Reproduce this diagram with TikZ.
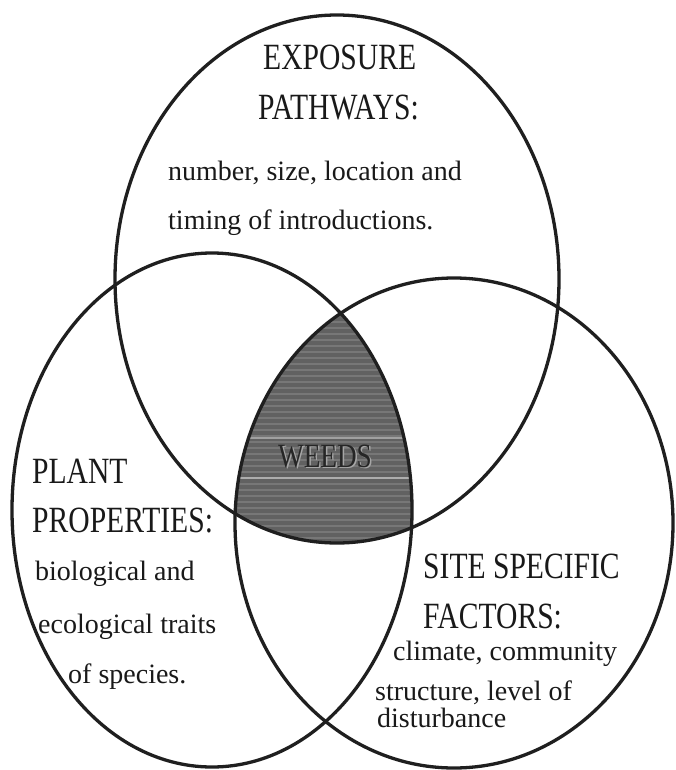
\documentclass[tikz,border=0pt]{standalone}
\usepackage{fontspec}
\setmainfont{Liberation Serif}
\newfontfamily\headfont[FakeStretch=0.8]{Liberation Serif}
\begin{document}
\begin{tikzpicture}[x=1pt,y=-1pt,
  ring/.style={draw=black!88, line width=3.3pt},
  head/.style={inner sep=0pt, anchor=base west, font=\headfont\fontsize{37}{37}\selectfont, text=black!90},
  body/.style={inner sep=0pt, anchor=base west, font=\fontsize{28}{28}\selectfont, text=black!90}]
\useasboundingbox[fill=white] (0,0) rectangle (676,770);
% shaded common region
\begin{scope}
  \clip (337,279) ellipse [x radius=222pt, y radius=264pt];
  \clip (212,510) ellipse [x radius=200pt, y radius=257pt];
  \fill[black!62] (454,523) ellipse [x radius=219pt, y radius=245pt];
  \foreach \yy in {322,328,...,546} \draw[white,opacity=0.14,line width=1.2pt] (200,\yy) -- (460,\yy);
  \draw[white, opacity=0.4, line width=2pt] (230,438) -- (450,438);
  \draw[white, opacity=0.4, line width=2pt] (230,478) -- (450,478);
\end{scope}
\node[inner sep=0pt, anchor=base, font=\headfont\fontsize{34}{34}\selectfont, text=black!35] (weedshalo) at (326.5,468.5) {WEEDS};
\node[inner sep=0pt, anchor=base, font=\headfont\fontsize{34}{34}\selectfont, text=black!85] (weeds) at (325,467) {WEEDS};
% the three circles
\draw[ring] (337,279) ellipse [x radius=222pt, y radius=264pt];
\draw[ring] (212,510) ellipse [x radius=200pt, y radius=257pt];
\draw[ring] (454,523) ellipse [x radius=219pt, y radius=245pt];
% exposure pathways
\node[head] (e1) at (263,70) {EXPOSURE};
\node[head] (e2) at (258,120) {PATHWAYS:};
\node[body] (e3) at (168,180) {number, size, location and};
\node[body] (e4) at (168,229) {timing of introductions.};
% plant properties
\node[head] (p1) at (32,483) {PLANT};
\node[head] (p2) at (32,532) {PROPERTIES:};
\node[body] (p3) at (35,580) {biological and};
\node[body] (p4) at (38,633) {ecological traits};
\node[body] (p5) at (68,683) {of species.};
% site specific factors
\node[head] (s1) at (423,578) {SITE SPECIFIC};
\node[head] (s2) at (423,628) {FACTORS:};
\node[body] (s3) at (393,660) {climate, community};
\node[body] (s4) at (375,700) {structure, level of};
\node[body] (s5) at (377,727) {disturbance};
\end{tikzpicture}
\end{document}
